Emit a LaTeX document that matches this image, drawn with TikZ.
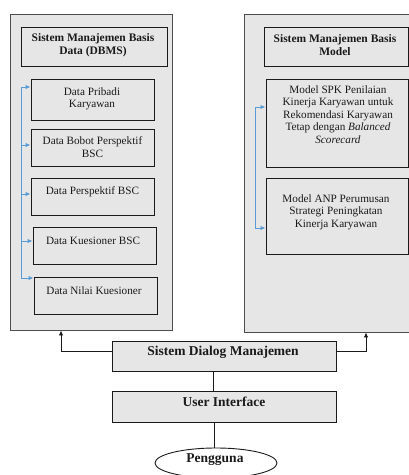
\documentclass[tikz,border=0pt]{standalone}
\usepackage{fontspec}
\setmainfont{Liberation Serif}
\usetikzlibrary{arrows.meta,shapes.geometric}
\definecolor{boxfill}{HTML}{E7E6E6}
\definecolor{outerline}{HTML}{4D4D4D}
\definecolor{conn}{HTML}{5B9BD5}
\definecolor{ink}{HTML}{1A1A1A}
\begin{document}
\begin{tikzpicture}[x=1pt,y=-1pt,
  outer/.style={draw=outerline,fill=boxfill,line width=0.9pt,rectangle,inner sep=0pt},
  inner/.style={draw=ink,fill=boxfill,line width=0.9pt,rectangle,inner sep=0pt},
  txt/.style={align=center,inner sep=0pt,text=ink,font=\fontsize{11.2}{12.5}\selectfont},
  ttl/.style={align=center,inner sep=0pt,text=ink,font=\fontsize{11.5}{13.5}\selectfont\bfseries},
  bigttl/.style={align=center,inner sep=0pt,text=ink,font=\fontsize{13.5}{15}\selectfont\bfseries},
  blarrow/.style={draw=conn,line width=0.9pt,-{Latex[length=5pt,width=4.5pt]}},
  blkarrow/.style={draw=ink,line width=0.9pt,-{Latex[length=5pt,width=4.5pt]}},
  blkline/.style={draw=ink,line width=0.9pt}]
\useasboundingbox (0,0) rectangle (409,475);
% outer boxes
\node[outer,minimum width=162pt,minimum height=316pt] (dbmsouter) at (91,172) {};
\node[outer,minimum width=176pt,minimum height=318pt] (modelouter) at (332,173) {};
% title boxes
\node[inner,minimum width=146pt,minimum height=39pt] (dbmsttl) at (94,46.5) {};
\node[ttl] (dbmsttltxt) at (93,45) {Sistem Manajemen Basis\\Data (DBMS)};
\node[inner,minimum width=144pt,minimum height=39pt] (modelttl) at (336,46.5) {};
\node[ttl] (modelttltxt) at (335,45) {Sistem Manajemen Basis\\Model};
% DBMS items
\node[inner,minimum width=123pt,minimum height=41pt] (pribadi) at (92.5,99.5) {};
\node[txt] (pribaditxt) at (92,99) {Data Pribadi\\Karyawan};
\node[inner,minimum width=123pt,minimum height=37pt] (bobot) at (92.5,147.5) {};
\node[txt] (bobottxt) at (92.5,147) {Data Bobot Perspektif\\BSC};
\node[inner,minimum width=123pt,minimum height=37pt] (persp) at (92.5,196.5) {};
\node[txt] (persptxt) at (92.5,192) {Data Perspektif BSC};
\node[inner,minimum width=123pt,minimum height=37pt] (kues) at (94.5,245.5) {};
\node[txt] (kuestxt) at (93,241) {Data Kuesioner BSC};
\node[inner,minimum width=123pt,minimum height=37pt] (nilai) at (95.5,295.5) {};
\node[txt] (nilaitxt) at (94,291) {Data Nilai Kuesioner};
% Model items
\node[inner,minimum width=142pt,minimum height=88pt] (spk) at (337,123) {};
\node[txt] (spktxt) at (338,114.5) {Model SPK Penilaian\\Kinerja Karyawan untuk\\Rekomendasi Karyawan\\Tetap dengan \textit{Balanced}\\\textit{Scorecard}};
\node[inner,minimum width=142pt,minimum height=76pt] (anp) at (337,216) {};
\node[txt] (anptxt) at (336,212) {Model ANP Perumusan\\Strategi Peningkatan\\Kinerja Karyawan};
% bottom
\node[inner,minimum width=224pt,minimum height=30pt] (dialog) at (224,356) {};
\node[bigttl] (dialogtxt) at (223,352) {Sistem Dialog Manajemen};
\node[inner,minimum width=224pt,minimum height=31pt] (ui) at (224,406.5) {};
\node[bigttl] (uitxt) at (224,402) {User Interface};
\node[draw=ink,fill=white,line width=0.9pt,ellipse,minimum width=122pt,minimum height=30pt,inner sep=0pt] (user) at (216,463) {};
\node[bigttl] (usertxt) at (215,460) {Pengguna};
% blue connectors left
\coordinate (lt1) at (21,87);
\coordinate (lt2) at (21,145);
\coordinate (lt3) at (21,194);
\coordinate (lt4) at (21,241);
\coordinate (lt5) at (21,278);
\draw[blarrow] (lt5) -- (lt1) -- (pribadi.west |- lt1);
\draw[blarrow] (lt2) -- (bobot.west |- lt2);
\draw[blarrow] (lt3) -- (persp.west |- lt3);
\draw[blarrow] (lt4) -- (kues.west |- lt4);
\draw[blarrow] (lt5) -- (nilai.west |- lt5);
% blue connectors right
\coordinate (rt1) at (255,107);
\coordinate (rt2) at (255,228);
\draw[blarrow] (rt2) -- (rt1) -- (spk.west |- rt1);
\draw[blarrow] (rt1) -- (rt2) -- (anp.west |- rt2);
% black connectors
\coordinate (dl) at (61,351);
\coordinate (dr) at (366,351);
\draw[blkarrow] (dialog.west |- dl) -- (dl) -- (dbmsouter.south -| dl);
\draw[blkarrow] (dialog.east |- dr) -- (dr) -- (modelouter.south -| dr);
\coordinate (mid1) at (213,0);
\coordinate (mid2) at (214,0);
\draw[blkline] (dialog.south -| mid1) -- (ui.north -| mid1);
\draw[blkline] (ui.south -| mid2) -- (user.north -| mid2);
\end{tikzpicture}
\end{document}
